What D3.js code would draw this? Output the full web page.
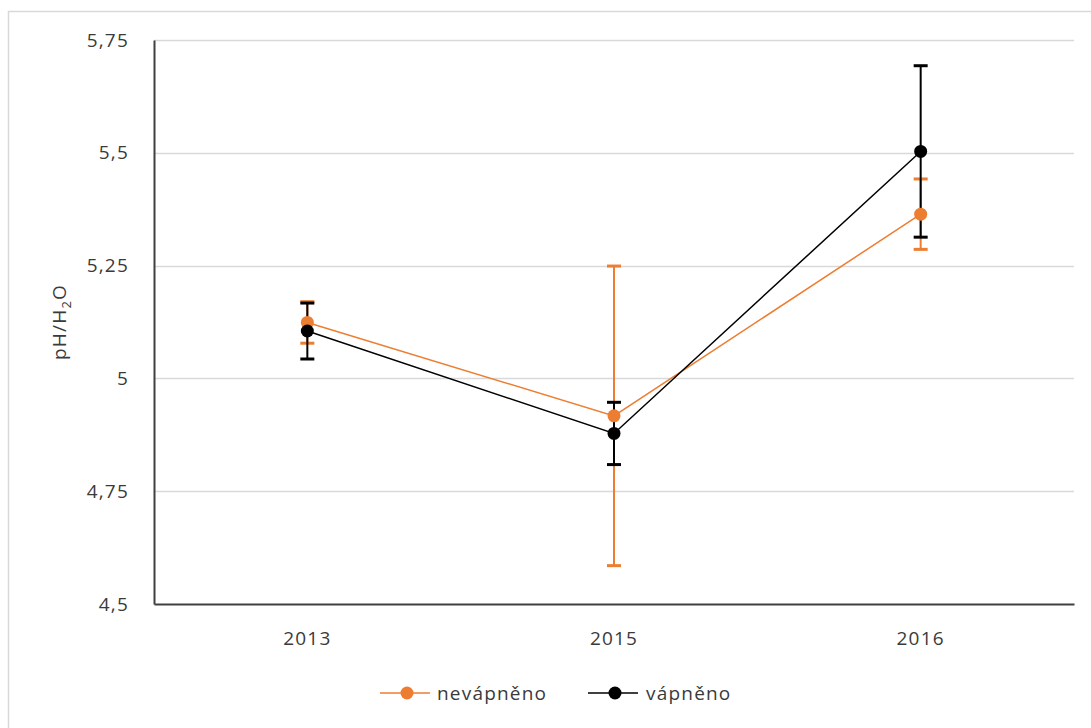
<!DOCTYPE html>
<html>
<head>
<meta charset="utf-8">
<script src="https://cdn.jsdelivr.net/npm/d3@7"></script>
<style>
  html, body { margin: 0; padding: 0; background: #fff; }
  svg { display: block; font-family: "Open Sans", "DejaVu Sans", sans-serif; }
  svg text { letter-spacing: 1.2px; }
</style>
</head>
<body>
<svg id="chart" width="1091" height="728"></svg>
<script>
// Sampling years
const years = ["2013", "2015", "2016"];
// Mean pH/H2O per year and its error (±)
const nevapnenoMean = [5.124, 4.917, 5.364];
const nevapnenoErr  = [0.046, 0.332, 0.078];
const vapnenoMean   = [5.105, 4.878, 5.503];
const vapnenoErr    = [0.062, 0.069, 0.190];
// Y axis tick values and labels
const yTicks = [4.5, 4.75, 5, 5.25, 5.5, 5.75];
const yTickLabels = ["4,5", "4,75", "5", "5,25", "5,5", "5,75"];
const seriesNames = ["nevápněno", "vápněno"];

const FONT = "\"Open Sans\", \"DejaVu Sans\", sans-serif";
const FS = 19;
const TXT = "#3a3a3a";

const svg = d3.select("#chart");
const W = 1091, H = 728;
const plot = { left: 154, right: 1074, top: 40, bottom: 604 };

// Outer chart frame
svg.append("rect")
  .attr("x", 8.5).attr("y", 11.5)
  .attr("width", W + 10).attr("height", H + 10)
  .attr("fill", "#fff").attr("stroke", "#d9d9d9").attr("stroke-width", 1.5);

const x = d3.scaleBand().domain(years).range([plot.left, plot.right]);
const y = d3.scaleLinear().domain([4.5, 5.75]).range([plot.bottom, plot.top]);

// Horizontal gridlines
svg.append("g").selectAll("line")
  .data(yTicks.filter(t => t > 4.5))
  .join("line")
  .attr("x1", plot.left).attr("x2", plot.right)
  .attr("y1", d => Math.round(y(d)) + 0.5).attr("y2", d => Math.round(y(d)) + 0.5)
  .attr("stroke", "#d9d9d9").attr("stroke-width", 1.5);

// Y axis
const yAxis = d3.axisLeft(y).tickValues(yTicks)
  .tickFormat((d, i) => yTickLabels[i]).tickSize(0).tickPadding(25);
const gy = svg.append("g").attr("transform", `translate(${plot.left},0)`).call(yAxis);
gy.select(".domain").attr("stroke", "#404040").attr("stroke-width", 2);
gy.selectAll("text").attr("font-size", FS).attr("fill", TXT).attr("font-family", FONT);

// X axis
const xAxis = d3.axisBottom(x).tickSize(0).tickPadding(28);
const gx = svg.append("g").attr("transform", `translate(0,${plot.bottom})`).call(xAxis);
gx.select(".domain").attr("stroke", "#404040").attr("stroke-width", 2);
gx.selectAll("text").attr("font-size", FS).attr("fill", TXT).attr("font-family", FONT);

// Y axis title
const title = svg.append("text")
  .attr("transform", `translate(66,${(plot.top + plot.bottom) / 2}) rotate(-90)`)
  .attr("text-anchor", "middle")
  .attr("font-size", FS).attr("fill", TXT);
title.append("tspan").text("pH/H");
title.append("tspan").attr("font-size", 13).attr("dy", 5).text("2");
title.append("tspan").attr("dy", -5).text("O");

const cx = d => x(d) + x.bandwidth() / 2;

const series = [
  { name: seriesNames[0], color: "#ED7D31", mean: nevapnenoMean, err: nevapnenoErr },
  { name: seriesNames[1], color: "#000000", mean: vapnenoMean, err: vapnenoErr }
];

const line = d3.line().x(d => cx(d.year)).y(d => y(d.v));

// Lines
series.forEach(s => {
  const pts = years.map((yr, i) => ({ year: yr, v: s.mean[i] }));
  svg.append("path").datum(pts)
    .attr("d", line).attr("fill", "none")
    .attr("stroke", s.color).attr("stroke-width", 1.5);
});

// Error bars
series.forEach(s => {
  const pts = years.map((yr, i) => ({ year: yr, v: s.mean[i], e: s.err[i] }));
  const g = svg.append("g");
  g.selectAll("line.v").data(pts).join("line")
    .attr("x1", d => cx(d.year)).attr("x2", d => cx(d.year))
    .attr("y1", d => y(d.v + d.e)).attr("y2", d => y(d.v - d.e))
    .attr("stroke", s.color).attr("stroke-width", 2);
  [1, -1].forEach(sign => {
    g.append("g").selectAll("line").data(pts).join("line")
      .attr("x1", d => cx(d.year) - 7).attr("x2", d => cx(d.year) + 7)
      .attr("y1", d => y(d.v + sign * d.e))
      .attr("y2", d => y(d.v + sign * d.e))
      .attr("stroke", s.color).attr("stroke-width", 3);
  });
});

// Markers
series.forEach(s => {
  const pts = years.map((yr, i) => ({ year: yr, v: s.mean[i] }));
  svg.append("g").selectAll("circle").data(pts).join("circle")
    .attr("cx", d => cx(d.year)).attr("cy", d => y(d.v))
    .attr("r", 6.5).attr("fill", s.color);
});

// Legend
const legendItems = [
  { s: series[0], x0: 380, tx: 437 },
  { s: series[1], x0: 588, tx: 646 }
];
const ly = 693;
legendItems.forEach(it => {
  const g = svg.append("g");
  g.append("line").attr("x1", it.x0).attr("x2", it.x0 + 50)
    .attr("y1", ly).attr("y2", ly)
    .attr("stroke", it.s.color).attr("stroke-width", 1.5);
  g.append("circle").attr("cx", it.x0 + 27).attr("cy", ly).attr("r", 6.5).attr("fill", it.s.color);
  g.append("text").attr("x", it.tx).attr("y", ly).attr("dy", "0.35em")
    .attr("font-size", FS).attr("fill", TXT).text(it.s.name);
});
</script>
</body>
</html>
